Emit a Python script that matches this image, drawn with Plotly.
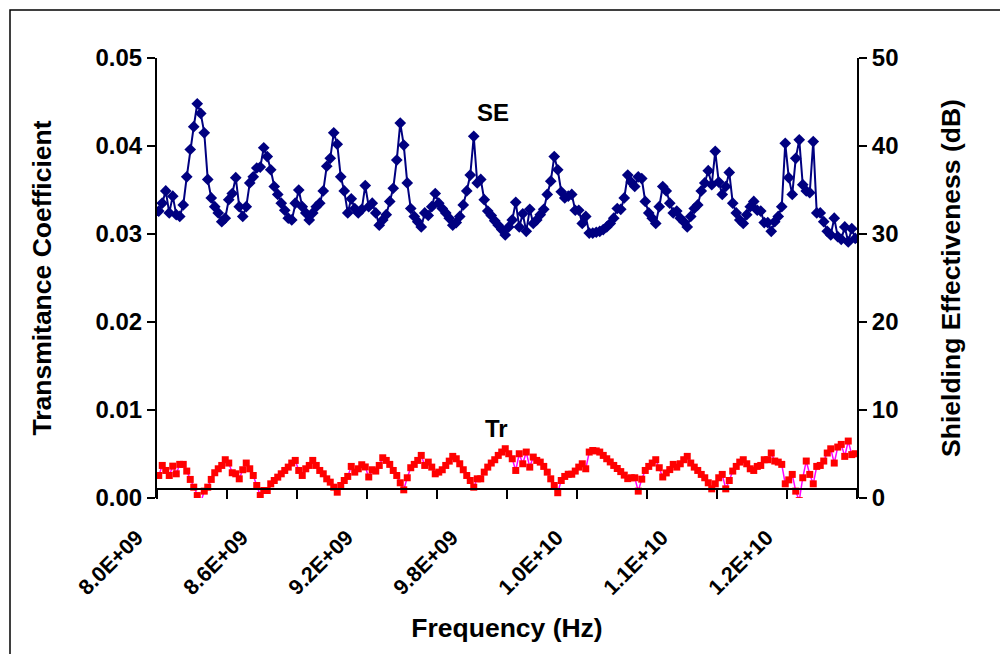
import plotly.graph_objects as go

# ---------------- data ----------------
freq_start_hz = 8.0e9
freq_step_hz = 0.02e9
n_points = 200
frequency_hz = [freq_start_hz + freq_step_hz * i for i in range(n_points)]

# Shielding effectiveness (dB), secondary axis
se_db = [
    32.6, 33.5, 34.9, 32.4, 34.3, 32.2, 32.0, 33.3, 36.5, 39.6,
    42.2, 44.8, 43.7, 41.5, 36.2, 34.1, 33.1, 32.4, 31.4, 31.8,
    33.9, 34.6, 36.4, 33.1, 32.0, 33.1, 35.8, 36.5, 37.5, 37.6,
    39.8, 38.8, 37.3, 35.4, 34.5, 33.5, 32.7, 31.8, 31.6, 33.5,
    35.0, 33.1, 32.4, 31.6, 32.4, 33.1, 33.5, 34.9, 37.7, 38.6,
    41.5, 40.2, 36.5, 34.9, 32.4, 34.0, 32.9, 32.4, 32.8, 35.5,
    33.1, 33.5, 32.4, 31.0, 31.6, 32.2, 33.7, 35.2, 38.4, 42.6,
    40.1, 35.8, 32.9, 32.0, 31.4, 30.8, 32.4, 32.1, 33.1, 34.6,
    33.5, 32.9, 32.4, 31.8, 31.0, 31.3, 32.0, 33.3, 34.9, 36.7,
    41.1, 35.8, 36.2, 33.9, 32.6, 32.1, 31.5, 31.0, 30.5, 29.9,
    30.8, 31.6, 33.6, 30.8, 32.3, 30.3, 32.8, 31.2, 31.6, 32.2,
    32.8, 34.5, 36.0, 38.8, 37.3, 34.8, 34.1, 34.3, 34.5, 32.7,
    32.7, 31.2, 32.0, 30.1, 30.1, 30.2, 30.3, 30.5, 30.8, 31.2,
    31.8, 32.9, 32.8, 34.1, 36.7, 35.9, 35.4, 36.5, 36.3, 33.7,
    32.4, 31.8, 31.2, 33.1, 35.4, 34.9, 33.5, 32.4, 32.6, 31.8,
    31.4, 30.8, 32.0, 32.9, 33.3, 34.9, 35.8, 37.2, 35.6, 39.4,
    35.9, 34.5, 35.4, 37.0, 33.5, 32.4, 31.6, 31.2, 32.2, 33.1,
    33.7, 32.7, 32.6, 31.3, 31.3, 30.3, 31.4, 32.0, 33.1, 40.3,
    36.4, 34.5, 38.6, 40.7, 35.6, 34.9, 34.7, 40.5, 32.4, 32.4,
    31.4, 30.3, 29.9, 31.8, 29.7, 29.4, 30.8, 29.1, 30.6, 29.5,
]

# Transmittance coefficient, in units of 1e-4 (primary axis)
tr_1e4 = [
    25.6, 37.0, 31.3, 25.6, 36.2, 27.5, 38.2, 38.2, 30.6, 21.1,
    12.3, 2.8, -5.0, 7.8, 12.3, 21.1, 28.7, 33.2, 37.0, 43.5,
    39.7, 28.7, 27.5, 21.8, 32.1, 39.7, 33.2, 25.6, 14.2, 2.8,
    8.5, 8.5, 16.1, 19.9, 23.7, 27.5, 31.3, 35.1, 39.7, 42.7,
    31.3, 25.6, 33.2, 37.0, 42.7, 37.0, 31.3, 27.5, 21.8, 18.0,
    12.3, 6.6, 14.2, 19.9, 24.5, 35.9, 29.4, 33.2, 37.8, 35.3,
    23.9, 32.1, 30.6, 37.0, 45.7, 42.7, 38.2, 31.3, 25.6, 17.3,
    9.3, 23.0, 34.4, 38.2, 42.7, 48.4, 37.0, 40.8, 35.1, 27.5,
    29.4, 32.1, 37.0, 41.9, 47.3, 44.6, 38.9, 32.1, 25.6, 19.9,
    12.3, 21.8, 21.8, 29.4, 35.1, 39.7, 43.5, 48.4, 52.2, 56.0,
    50.3, 44.6, 31.3, 50.3, 38.9, 52.2, 35.1, 46.5, 42.7, 40.8,
    35.9, 29.4, 21.8, 14.2, 6.0, 19.9, 24.5, 27.0, 27.0, 30.6,
    35.1, 38.9, 33.2, 52.2, 54.0, 53.5, 52.2, 48.4, 44.6, 41.0,
    37.0, 33.5, 30.0, 26.0, 22.0, 23.0, 23.0, 7.8, 21.4, 31.3,
    35.9, 39.7, 43.5, 34.4, 23.9, 28.5, 32.3, 38.2, 35.1, 38.9,
    43.5, 47.3, 39.7, 35.1, 31.3, 26.8, 23.0, 17.3, 10.4, 16.1,
    23.0, 26.8, 10.4, 19.9, 30.6, 35.9, 40.8, 43.5, 38.9, 33.2,
    31.3, 35.9, 37.0, 43.5, 43.5, 51.1, 42.0, 40.8, 38.2, 16.1,
    20.6, 26.8, 7.8, -3.0, 23.0, 42.0, 26.8, 16.1, 35.9, 37.0,
    42.0, 51.1, 55.9, 39.7, 57.9, 60.9, 47.3, 64.7, 49.3, 50.3,
]
tr = [v * 1e-4 for v in tr_1e4]

x_tick_vals = [8.0e9, 8.6e9, 9.2e9, 9.8e9, 10.4e9, 11.0e9, 11.6e9]
x_tick_text = ["8.0E+09", "8.6E+09", "9.2E+09", "9.8E+09", "1.0E+10", "1.1E+10", "1.2E+10"]
y_left_vals = [0.0, 0.01, 0.02, 0.03, 0.04, 0.05]
y_left_text = ["0.00", "0.01", "0.02", "0.03", "0.04", "0.05"]
y_right_vals = [0, 10, 20, 30, 40, 50]
y_right_text = ["0", "10", "20", "30", "40", "50"]

# ---------------- styling ----------------
FONT = "Liberation Sans, Arial, sans-serif"
tickfont = dict(family=FONT, size=24, color="black", weight="bold")
xtickfont = dict(family=FONT, size=21.5, color="black", weight="bold")
titlefont = dict(family=FONT, size=26.5, color="black", weight="bold")

half = freq_step_hz / 2
x_range = [frequency_hz[0] - half, frequency_hz[-1] + half]

fig = go.Figure()
fig.add_trace(go.Scatter(
    x=frequency_hz, y=tr, mode="lines+markers", name="Tr",
    line=dict(color="#FF00FF", width=1.5),
    marker=dict(symbol="square", size=7, color="#FF0000", line=dict(width=0)),
    yaxis="y",
))
fig.add_trace(go.Scatter(
    x=frequency_hz, y=se_db, mode="lines+markers", name="SE",
    line=dict(color="#000080", width=2),
    marker=dict(symbol="diamond", size=9, color="#000080", line=dict(width=0)),
    yaxis="y2",
))

fig.update_layout(
    width=1000, height=654,
    margin=dict(l=157, r=143, t=58, b=156, pad=0),
    paper_bgcolor="white", plot_bgcolor="white",
    showlegend=False,
    xaxis=dict(
        range=x_range, anchor="free", position=0.0194,
        showgrid=False, zeroline=False,
        showline=True, linecolor="black", linewidth=2,
        tickmode="array", tickvals=x_tick_vals, ticktext=x_tick_text,
        ticks="", tickangle=-45, tickfont=xtickfont,
        ticklabelstandoff=26, ticklabelshift=-22,
        minor=dict(tickmode="linear", tick0=x_range[0], dtick=20 * freq_step_hz,
                   ticks="outside", ticklen=9, tickwidth=2, tickcolor="black", showgrid=False),
        title=dict(text="Frequency (Hz)", font=titlefont, standoff=19),
    ),
    yaxis=dict(
        range=[0, 0.05], showgrid=False, zeroline=False,
        showline=True, linecolor="black", linewidth=2,
        tickmode="array", tickvals=y_left_vals, ticktext=y_left_text,
        ticks="outside", ticklen=8, tickwidth=2, tickcolor="black",
        tickfont=tickfont,
        title=dict(text="Transmitance Coefficient", font=titlefont, standoff=36),
    ),
    yaxis2=dict(
        range=[0, 50], overlaying="y", side="right", anchor="x",
        showgrid=False, zeroline=False,
        showline=True, linecolor="black", linewidth=2,
        tickmode="array", tickvals=y_right_vals, ticktext=y_right_text,
        ticks="outside", ticklen=8, tickwidth=2, tickcolor="black",
        tickfont=tickfont,
        title=dict(text="Shielding Effectiveness (dB)", font=titlefont, standoff=44),
    ),
    annotations=[
        dict(x=9.91e9, y=43.8, xref="x", yref="y2", text="SE", showarrow=False,
             font=dict(family=FONT, size=24, color="black", weight="bold")),
        dict(x=9.93e9, y=0.0079, xref="x", yref="y", text="Tr", showarrow=False,
             font=dict(family=FONT, size=24, color="black", weight="bold")),
    ],
    shapes=[
        dict(type="rect", xref="paper", yref="paper",
             x0=(10 - 157) / 700, x1=(1010 - 157) / 700,
             y0=(498 - 664) / 440, y1=(498 - 10) / 440,
             line=dict(color="black", width=1.5), fillcolor="rgba(0,0,0,0)", layer="below"),
    ],
)

fig.write_html("out.html")
